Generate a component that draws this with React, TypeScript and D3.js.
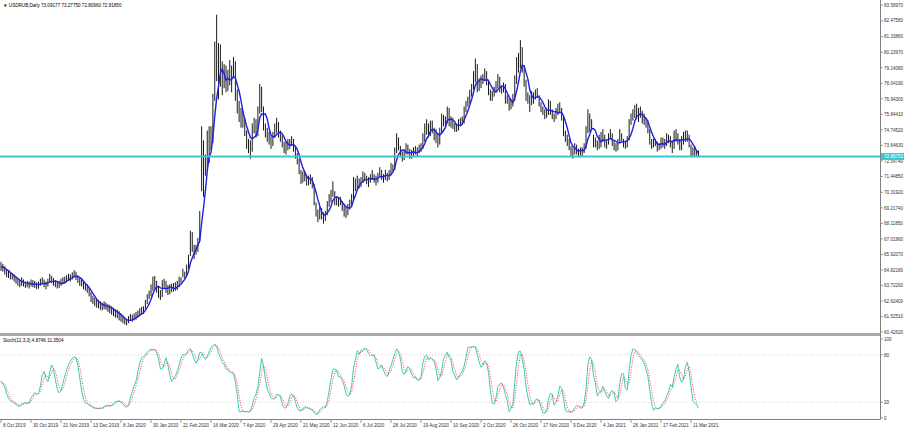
import React from "react";
import * as d3 from "d3";

const chartTitle = "USDRUB,Daily 73.09177 73.27750 72.80960 72.81850";
const stochTitle = "Stoch(12,3,3) 4.8746 11.3504";
const bidPrice = 72.85753;

const dateLabels = ["8 Oct 2019", "30 Oct 2019", "21 Nov 2019", "13 Dec 2019", "8 Jan 2020", "30 Jan 2020",
  "21 Feb 2020", "16 Mar 2020", "7 Apr 2020", "29 Apr 2020", "21 May 2020", "12 Jun 2020", "6 Jul 2020",
  "28 Jul 2020", "19 Aug 2020", "10 Sep 2020", "2 Oct 2020", "26 Oct 2020", "17 Nov 2020", "9 Dec 2020",
  "4 Jan 2021", "26 Jan 2021", "17 Feb 2021", "11 Mar 2021"];

const priceLabels = ["83.58970", "82.47580", "81.33860", "80.23970", "79.14080", "78.04190", "76.94300",
  "75.84410", "74.74520", "73.64630", "72.54740", "71.44850", "70.31920", "69.21740", "68.11850", "67.01960",
  "65.92070", "64.82180", "63.72290", "62.62400", "61.52510", "60.42620"];

const stochLevels = [100, 80, 20, 0];

// daily bars, 8 Oct 2019 .. 17 Mar 2021
const closes = [
  65.05, 64.98, 64.80, 64.55, 64.50, 64.40, 64.42, 64.20, 64.10, 63.95, 63.85, 64.05, 63.88, 63.80, 63.85, 63.75,
  63.90, 63.85, 63.80, 63.70, 63.75, 63.95, 64.05, 63.85, 63.72, 63.95, 64.30, 64.15, 63.95, 63.85, 63.75, 63.80,
  63.95, 64.05, 64.10, 64.20, 64.30, 64.25, 64.40, 64.55, 64.40, 64.15, 63.95, 63.90, 63.70, 63.60, 63.50, 63.20,
  62.85, 62.70, 62.55, 62.45, 62.40, 62.30, 62.20, 62.35, 62.25, 62.10, 62.05, 61.95, 61.85, 61.75, 61.70, 61.55,
  61.40, 61.30, 61.15, 61.10, 61.30, 61.45, 61.40, 61.50, 61.55, 61.70, 61.85, 61.90, 61.95, 62.40, 62.80, 63.05,
  63.45, 63.90, 64.00, 63.60, 63.30, 62.95, 63.75, 63.90, 63.70, 63.30, 63.45, 63.55, 63.60, 63.65, 63.75, 63.95,
  64.05, 64.55, 64.45, 64.95, 65.65, 66.95, 66.30, 66.20, 66.35, 66.90, 68.60, 72.60, 71.60, 72.30, 74.00, 73.70,
  74.10, 76.90, 79.90, 80.20, 78.10, 78.70, 78.30, 78.40, 77.80, 78.80, 78.10, 78.50, 79.40, 77.30, 76.40, 75.80,
  75.30, 75.50, 74.60, 73.90, 73.70, 73.40, 74.90, 75.20, 74.40, 76.10, 77.40, 76.30, 74.90, 74.70, 74.30, 74.10,
  73.80, 74.40, 74.70, 75.10, 74.50, 74.30, 73.80, 73.40, 73.60, 73.70, 73.80, 73.90, 73.50, 73.00, 72.60, 71.90,
  71.30, 71.45, 71.50, 71.05, 71.20, 71.30, 70.80, 69.50, 68.90, 68.60, 69.00, 68.70, 68.50, 68.70, 69.40, 69.90,
  70.20, 70.50, 69.70, 69.70, 69.60, 69.70, 69.30, 69.00, 68.90, 69.30, 69.50, 69.90, 71.20, 70.60, 71.20, 70.90,
  71.10, 71.50, 71.40, 71.20, 71.00, 71.30, 71.50, 71.30, 71.10, 71.40, 71.80, 71.50, 71.30, 71.60, 71.40, 71.60,
  72.10, 72.00, 73.10, 74.30, 73.50, 73.00, 72.70, 73.10, 73.50, 73.30, 72.90, 73.00, 73.20, 73.30, 73.20, 73.40,
  73.50, 74.10, 74.60, 75.00, 74.40, 75.10, 74.80, 74.30, 74.40, 73.70, 74.70, 75.40, 75.30, 75.40, 76.20, 75.20,
  75.40, 75.00, 74.80, 74.90, 75.30, 75.30, 75.50, 76.20, 76.50, 76.90, 77.30, 77.60, 78.60, 79.20, 77.80, 77.90,
  78.30, 78.40, 78.80, 78.20, 77.40, 77.00, 77.20, 77.60, 77.90, 78.30, 77.60, 77.70, 77.80, 76.80, 76.90, 76.20,
  76.60, 76.90, 78.30, 79.50, 79.30, 80.40, 79.10, 78.10, 77.10, 77.10, 76.60, 77.10, 77.00, 77.40, 77.30, 76.60,
  76.20, 76.00, 75.90, 76.00, 76.70, 76.00, 75.80, 75.60, 76.10, 76.20, 76.30, 75.60, 74.50, 74.10, 73.90, 73.60,
  73.10, 73.20, 73.60, 73.20, 73.10, 73.30, 73.20, 73.60, 74.60, 75.80, 74.90, 75.20, 73.70, 73.90, 73.60, 74.20,
  74.10, 74.30, 73.80, 73.80, 74.30, 74.50, 73.80, 73.60, 73.50, 73.70, 74.50, 74.10, 73.70, 73.60, 74.00, 75.30,
  75.50, 75.80, 76.10, 75.80, 75.70, 76.00, 75.50, 75.40, 75.20, 74.70, 73.90, 73.70, 73.80, 73.90, 73.50, 73.60,
  73.90, 73.90, 73.70, 74.20, 74.10, 73.90, 73.50, 74.40, 74.30, 74.00, 73.60, 74.00, 74.20, 74.40, 74.30, 73.60,
  73.30, 73.10, 73.20, 73.10, 72.82,
];

const highs = [
  65.40, 65.25, 65.10, 64.90, 64.75, 64.65, 64.60, 64.50, 64.35, 64.25, 64.10, 64.30, 64.15, 64.00, 64.05, 64.00,
  64.15, 64.10, 64.05, 63.95, 64.00, 64.20, 64.30, 64.15, 64.00, 64.20, 64.55, 64.40, 64.25, 64.10, 64.00, 64.05,
  64.20, 64.30, 64.35, 64.45, 64.55, 64.50, 64.65, 64.80, 64.70, 64.45, 64.25, 64.15, 64.00, 63.90, 63.80, 63.55,
  63.25, 63.00, 62.85, 62.75, 62.70, 62.60, 62.50, 62.60, 62.50, 62.40, 62.35, 62.25, 62.15, 62.05, 62.00, 61.90,
  61.75, 61.60, 61.45, 61.35, 61.55, 61.70, 61.65, 61.75, 61.85, 61.95, 62.10, 62.20, 62.25, 62.70, 63.10, 63.35,
  63.80, 64.35, 64.40, 64.05, 63.70, 63.40, 64.10, 64.20, 64.05, 63.75, 63.80, 63.85, 63.90, 63.95, 64.05, 64.35,
  64.30, 64.90, 64.70, 65.20, 65.90, 67.60, 67.50, 66.60, 66.60, 67.10, 69.00, 75.00, 74.00, 73.00, 74.70, 75.00,
  75.00, 77.30, 81.00, 82.90, 80.90, 80.80, 79.60, 79.40, 79.30, 79.00, 79.70, 79.30, 79.90, 79.60, 77.60, 76.80,
  76.30, 76.10, 75.60, 74.70, 74.10, 74.00, 75.20, 75.60, 75.50, 76.40, 78.00, 77.80, 76.40, 75.20, 74.90, 74.60,
  74.30, 74.60, 75.20, 75.60, 75.30, 74.70, 74.40, 73.90, 73.90, 74.10, 74.10, 74.30, 74.10, 73.60, 73.10, 72.70,
  71.90, 71.80, 71.80, 71.60, 71.50, 71.60, 71.40, 70.90, 69.60, 69.10, 69.30, 69.20, 68.90, 69.00, 69.70, 70.20,
  70.50, 71.10, 70.40, 70.00, 69.90, 70.00, 69.70, 69.40, 69.30, 69.50, 69.80, 70.20, 71.40, 71.30, 71.50, 71.30,
  71.40, 71.80, 71.70, 71.50, 71.40, 71.60, 71.90, 71.60, 71.50, 71.70, 72.10, 71.90, 71.60, 71.90, 71.70, 71.90,
  72.40, 72.30, 73.50, 74.50, 74.20, 73.60, 73.20, 73.30, 73.80, 73.70, 73.40, 73.30, 73.50, 73.60, 73.50, 73.70,
  73.80, 74.50, 75.20, 75.50, 75.20, 75.40, 75.40, 74.90, 74.80, 74.50, 74.90, 75.90, 75.80, 75.70, 76.40, 76.30,
  75.70, 75.60, 75.20, 75.20, 75.50, 75.60, 75.70, 76.40, 76.80, 77.10, 77.60, 78.00, 78.90, 79.80, 79.40, 78.40,
  78.60, 78.70, 79.10, 78.90, 78.30, 77.60, 77.50, 77.80, 78.20, 78.70, 78.50, 77.90, 78.10, 78.00, 77.20, 77.00,
  76.90, 77.30, 78.60, 79.90, 80.20, 81.10, 80.60, 79.30, 78.30, 77.40, 77.20, 77.50, 77.40, 77.60, 77.70, 77.20,
  76.70, 76.40, 76.20, 76.30, 76.90, 76.80, 76.20, 75.90, 76.30, 76.60, 76.70, 76.30, 75.70, 74.70, 74.40, 74.10,
  73.60, 73.50, 73.80, 73.70, 73.40, 73.50, 73.50, 73.80, 75.00, 76.20, 75.90, 75.50, 74.40, 74.20, 74.00, 74.40,
  74.60, 74.80, 74.40, 74.00, 74.50, 74.80, 74.50, 74.00, 73.80, 74.10, 74.80, 74.50, 74.10, 73.90, 74.30, 75.50,
  75.90, 76.20, 76.50, 76.60, 76.30, 76.40, 76.10, 75.90, 75.60, 75.30, 74.80, 74.10, 74.10, 74.10, 73.90, 73.80,
  74.20, 74.20, 74.10, 74.50, 74.40, 74.30, 74.00, 74.70, 74.80, 74.50, 74.10, 74.30, 74.60, 74.70, 74.70, 74.40,
  73.70, 73.50, 73.60, 73.30, 73.28,
];

const lows = [
  64.75, 64.70, 64.50, 64.30, 64.25, 64.15, 64.15, 64.00, 63.85, 63.70, 63.60, 63.70, 63.65, 63.55, 63.60, 63.50,
  63.65, 63.60, 63.55, 63.45, 63.50, 63.70, 63.80, 63.60, 63.45, 63.65, 63.95, 63.90, 63.70, 63.60, 63.50, 63.55,
  63.70, 63.80, 63.85, 63.95, 64.05, 64.00, 64.15, 64.30, 64.10, 63.90, 63.70, 63.65, 63.45, 63.35, 63.20, 62.95,
  62.55, 62.40, 62.25, 62.15, 62.10, 62.00, 61.95, 62.05, 62.00, 61.85, 61.75, 61.65, 61.55, 61.45, 61.40, 61.25,
  61.15, 61.05, 60.95, 60.90, 61.05, 61.20, 61.15, 61.25, 61.30, 61.45, 61.60, 61.65, 61.70, 62.05, 62.40, 62.75,
  62.95, 63.35, 63.50, 63.20, 62.85, 62.70, 62.90, 63.50, 63.20, 63.05, 63.10, 63.25, 63.30, 63.35, 63.40, 63.60,
  63.90, 64.30, 64.20, 64.40, 64.90, 65.80, 66.10, 65.60, 65.90, 66.10, 66.90, 70.40, 70.00, 71.50, 71.80, 72.40,
  73.30, 73.80, 76.80, 78.20, 76.90, 77.80, 77.20, 77.70, 77.40, 77.50, 77.90, 77.40, 78.40, 76.80, 75.90, 75.30,
  74.90, 74.90, 74.30, 73.40, 73.10, 72.70, 73.20, 74.50, 74.20, 74.30, 75.90, 76.00, 74.70, 74.20, 73.90, 73.70,
  73.40, 73.60, 74.20, 74.50, 74.20, 73.90, 73.50, 73.10, 73.00, 73.30, 73.40, 73.60, 73.20, 72.70, 72.30, 71.60,
  70.90, 71.00, 71.10, 70.80, 70.80, 70.90, 70.60, 69.40, 68.60, 68.20, 68.40, 68.40, 68.10, 68.30, 68.70, 69.30,
  69.60, 70.00, 69.40, 69.40, 69.30, 69.40, 69.00, 68.60, 68.50, 68.70, 69.10, 69.40, 69.80, 70.40, 70.50, 70.60,
  70.70, 71.00, 71.10, 70.90, 70.70, 71.00, 71.20, 71.00, 70.80, 71.00, 71.40, 71.20, 71.00, 71.20, 71.10, 71.20,
  71.50, 71.80, 71.90, 73.10, 73.30, 72.80, 72.50, 72.60, 73.00, 73.00, 72.70, 72.70, 72.90, 73.00, 72.90, 73.10,
  73.20, 73.40, 73.90, 74.40, 74.20, 74.30, 74.50, 74.00, 73.80, 73.50, 73.70, 74.50, 75.00, 75.00, 75.20, 75.00,
  74.90, 74.80, 74.60, 74.60, 74.70, 75.00, 75.10, 75.20, 76.00, 76.40, 76.60, 77.10, 77.60, 78.10, 77.40, 77.50,
  77.70, 78.00, 78.20, 77.90, 77.20, 76.80, 76.80, 77.10, 77.40, 77.70, 77.40, 77.30, 77.40, 76.60, 76.60, 76.10,
  76.20, 76.40, 76.80, 78.00, 78.80, 79.10, 78.80, 77.80, 76.80, 76.60, 76.00, 76.50, 76.60, 76.90, 77.00, 76.40,
  76.00, 75.80, 75.50, 75.60, 75.80, 75.80, 75.50, 75.30, 75.50, 75.80, 75.90, 75.40, 74.30, 73.90, 73.60, 73.30,
  72.90, 72.70, 73.00, 73.00, 72.80, 72.90, 72.90, 73.10, 73.40, 74.50, 74.60, 74.70, 73.50, 73.50, 73.30, 73.40,
  73.50, 73.90, 73.50, 73.40, 73.70, 74.10, 73.60, 73.30, 73.20, 73.30, 73.80, 73.90, 73.50, 73.40, 73.50, 74.00,
  75.10, 75.40, 75.60, 75.50, 75.30, 75.60, 75.20, 75.10, 74.90, 74.50, 73.70, 73.40, 73.50, 73.60, 73.20, 73.30,
  73.40, 73.50, 73.40, 73.60, 73.80, 73.50, 73.10, 73.40, 73.90, 73.70, 73.30, 73.30, 73.70, 73.90, 73.90, 73.50,
  72.90, 72.80, 72.90, 72.90, 72.81,
];

const MA_PERIOD = 5;
const K_PERIOD = 12, SLOWING = 3, D_PERIOD = 3;

const font = "'Liberation Sans', Arial, sans-serif";
const FS = 4.6;

// simple moving average over the available window
const sma = (arr: number[], n: number) =>
  arr.map((_, i) => d3.mean(arr.slice(Math.max(0, i - n + 1), i + 1)) as number);

const stochastic = () => {
  const num: number[] = [], den: number[] = [];
  closes.forEach((c, i) => {
    const lo = d3.min(lows.slice(Math.max(0, i - K_PERIOD + 1), i + 1)) as number;
    const hi = d3.max(highs.slice(Math.max(0, i - K_PERIOD + 1), i + 1)) as number;
    num.push(c - lo);
    den.push(hi - lo);
  });
  const k = closes.map((_, i) => {
    const s = Math.max(0, i - SLOWING + 1);
    const n = d3.sum(num.slice(s, i + 1)), d = d3.sum(den.slice(s, i + 1));
    return d === 0 ? 100 : (n / d) * 100;
  });
  const d = sma(k, D_PERIOD);
  return { k, d };
};

const App = () => {
  const W = 904, H = 430;
  const plotRight = 880;

  const x = d3.scaleLinear().domain([0, 368]).range([1, 691]);
  const y = d3.scaleLinear().domain([60.4262, 83.5897]).range([332, 5]);
  const ys = d3.scaleLinear().domain([0, 100]).range([418, 339]);

  const ma = sma(closes, MA_PERIOD);
  const { k, d } = stochastic();

  const maLine = d3.line<number>().x((_, i) => x(i)).y((v) => y(v))(ma) || "";
  const kLine = d3.line<number>().x((_, i) => x(i)).y((v) => ys(v))(k) || "";
  const dLine = d3.line<number>().x((_, i) => x(i)).y((v) => ys(v))(d) || "";

  const bidY = y(bidPrice);

  return (
    <svg width={W} height={H} style={{ position: "absolute", left: 0, top: 0, background: "#fff" }} fontFamily={font}>
      {/* price bars */}
      <g stroke="#1a1a1a" strokeWidth={1}>
        {closes.map((c, i) => (
          <line key={i} x1={x(i)} x2={x(i)} y1={y(highs[i])} y2={y(lows[i])} />
        ))}
      </g>
      <path d={maLine} fill="none" stroke="#1f1fe0" strokeWidth={1.4} />

      {/* bid line */}
      <line x1={0} x2={plotRight} y1={bidY} y2={bidY} stroke="#3cc6cf" strokeWidth={2} />

      <text x={3} y={7} fontSize={FS} fill="#000">{"\u25BC " + chartTitle}</text>

      {/* panel separator */}
      <rect x={0} y={333} width={plotRight} height={3} fill="#a8a8a8" />

      {/* stochastic levels */}
      {[80, 20].map((lv) => (
        <line key={lv} x1={0} x2={plotRight} y1={ys(lv)} y2={ys(lv)} stroke="#c8c8c8" strokeWidth={0.8} strokeDasharray="1,2" />
      ))}
      <path d={kLine} fill="none" stroke="#40c8b8" strokeWidth={1} />
      <path d={dLine} fill="none" stroke="#f03030" strokeWidth={0.9} strokeDasharray="1,1.5" />
      <text x={3} y={342} fontSize={FS} fill="#000">{stochTitle}</text>

      {/* borders */}
      <line x1={plotRight + 0.5} x2={plotRight + 0.5} y1={0} y2={419.5} stroke="#808080" strokeWidth={1} />
      <line x1={0} x2={plotRight + 0.5} y1={419.5} y2={419.5} stroke="#808080" strokeWidth={1} />

      {/* price axis */}
      {priceLabels.map((p) => {
        const py = y(parseFloat(p));
        return (
          <g key={p}>
            <line x1={plotRight} x2={plotRight + 3} y1={py} y2={py} stroke="#808080" strokeWidth={0.8} />
            <text x={plotRight + 4} y={py + 1.7} fontSize={FS} fill="#333">{p}</text>
          </g>
        );
      })}
      <rect x={plotRight + 1} y={bidY - 3.5} width={W - plotRight - 1} height={7} fill="#3cc6cf" />
      <text x={plotRight + 4} y={bidY + 1.7} fontSize={FS} fill="#fff">{bidPrice.toFixed(5)}</text>

      {/* stochastic axis */}
      {stochLevels.map((lv) => (
        <g key={lv}>
          <line x1={plotRight} x2={plotRight + 3} y1={ys(lv)} y2={ys(lv)} stroke="#808080" strokeWidth={0.8} />
          <text x={plotRight + 4} y={ys(lv) + 1.7} fontSize={FS} fill="#333">{lv}</text>
        </g>
      ))}

      {/* date axis */}
      {dateLabels.map((lab, j) => {
        const tx = x(j * 16);
        return (
          <g key={lab}>
            <line x1={tx} x2={tx} y1={419.5} y2={423} stroke="#808080" strokeWidth={0.8} />
            <text x={tx + 2} y={426.5} fontSize={FS} fill="#333">{lab}</text>
          </g>
        );
      })}
    </svg>
  );
};

export default App;
